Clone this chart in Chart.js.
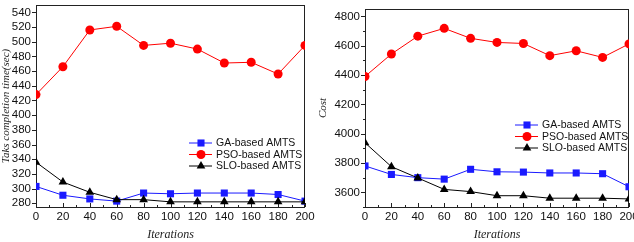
<!DOCTYPE html>
<html lang="en">
  <head>
    <meta charset="UTF-8" />
    <title>AMTS comparison</title>
    <script src="https://cdn.jsdelivr.net/npm/chart.js"></script>
    <style>
      body { margin: 0; background: #fff; }
      .box { position: absolute; top: 0; width: 317px; height: 242px; }
    </style>
  </head>
  <body>
    <div class="box" style="left:0"><canvas id="timeChart" width="317" height="242"></canvas></div>
    <div class="box" style="left:317px"><canvas id="costChart" width="317" height="242"></canvas></div>

    <script>
      const iterations = [0, 20, 40, 60, 80, 100, 120, 140, 160, 180, 200];
      const seriesNames = ["GA-based AMTS", "PSO-based AMTS", "SLO-based AMTS"];

      // left panel: task completion time (sec)
      const timeGA = [303, 291, 286, 283, 294, 293, 294, 294, 294, 292, 283];
      const timePSO = [428, 466, 516, 521, 495, 498, 490, 471, 472, 456, 495];
      const timeSLO = [336, 309, 295, 285, 285, 282, 282, 282, 282, 282, 282];
      const timeTicks = [280, 300, 320, 340, 360, 380, 400, 420, 440, 460, 480, 500, 520, 540];

      // right panel: cost
      const costGA = [3780, 3722, 3700, 3690, 3757, 3740, 3738, 3732, 3732, 3727, 3638];
      const costPSO = [4390, 4543, 4665, 4718, 4650, 4622, 4615, 4532, 4565, 4520, 4612];
      const costSLO = [3938, 3775, 3698, 3620, 3605, 3577, 3577, 3560, 3560, 3560, 3555];
      const costTicks = [3600, 3800, 4000, 4200, 4400, 4600, 4800];

      const colors = ["#1a1aff", "#ff0000", "#000000"];
      const shapes = ["rect", "circle", "triangle"];
      const radii = [5, 4.5, 5];

      const tickFont = { family: "Liberation Sans", size: 11.5 };
      const titleFont = { family: "Liberation Serif", size: 12, style: "italic" };
      const yTitleFont = { family: "Liberation Serif", size: 11, style: "italic" };

      function drawMarker(ctx, shape, x, y, r) {
        ctx.beginPath();
        if (shape === "rect") {
          const s = r * Math.SQRT1_2;
          ctx.rect(x - s, y - s, 2 * s, 2 * s);
        } else if (shape === "circle") {
          ctx.arc(x, y, r, 0, Math.PI * 2);
        } else {
          ctx.moveTo(x, y - r);
          ctx.lineTo(x + r * 0.866, y + r * 0.5);
          ctx.lineTo(x - r * 0.866, y + r * 0.5);
          ctx.closePath();
        }
        ctx.fill();
      }

      // frame with short tick marks (Origin style)
      const framePlugin = {
        id: "frame",
        beforeDatasetsDraw(chart) {
          const { ctx, chartArea: a, scales } = chart;
          ctx.save();
          ctx.strokeStyle = "#222";
          ctx.lineWidth = 1;
          ctx.strokeRect(a.left + 0.5, a.top + 0.5, a.right - a.left - 1, a.bottom - a.top);
          const minors = (vals, lo, hi) => {
            const out = [];
            const step = vals[1] - vals[0];
            for (let v = vals[0] - step / 2; v <= hi; v += step) if (v >= lo) out.push(v);
            return out;
          };
          ctx.beginPath();
          const xs = scales.x, ys = scales.y;
          xs.ticks.forEach((t) => {
            const p = Math.round(xs.getPixelForValue(t.value)) + 0.5;
            ctx.moveTo(p, a.bottom); ctx.lineTo(p, a.bottom - 4);
          });
          minors(xs.ticks.map((t) => t.value), xs.min, xs.max).forEach((v) => {
            const p = Math.round(xs.getPixelForValue(v)) + 0.5;
            ctx.moveTo(p, a.bottom); ctx.lineTo(p, a.bottom - 2);
          });
          ys.ticks.forEach((t) => {
            const p = Math.round(ys.getPixelForValue(t.value)) + 0.5;
            ctx.moveTo(a.left, p); ctx.lineTo(a.left - 4, p);
          });
          if (chart.options.plugins.frame.yMinor) {
            minors(ys.ticks.map((t) => t.value), ys.min, ys.max).forEach((v) => {
              const p = Math.round(ys.getPixelForValue(v)) + 0.5;
              ctx.moveTo(a.left, p); ctx.lineTo(a.left - 2, p);
            });
          }
          ctx.stroke();
          ctx.restore();
        },
      };

      // legend drawn inside plot: line + marker + text
      const legendPlugin = {
        id: "boxLegend",
        afterDatasetsDraw(chart) {
          const o = chart.options.plugins.boxLegend;
          const { ctx, chartArea: a } = chart;
          ctx.save();
          ctx.font = "10.5px 'Liberation Sans'";
          ctx.textBaseline = "middle";
          seriesNames.forEach((name, i) => {
            const x = a.right - o.right;
            const y = a.bottom - o.bottom + i * 11.5;
            ctx.strokeStyle = colors[i];
            ctx.fillStyle = colors[i];
            ctx.lineWidth = 1;
            ctx.beginPath();
            ctx.moveTo(x, y); ctx.lineTo(x + 23, y);
            ctx.stroke();
            drawMarker(ctx, shapes[i], x + 12, y, radii[i]);
            ctx.fillStyle = "#111";
            ctx.fillText(name, x + 27, y + 0.5);
          });
          ctx.restore();
        },
      };

      function makeChart(id, values, yTicks, yMin, yMax, yTitle, yWidth, pad, legendPos, yMinor) {
        const order = [2, 1, 0];
        return new Chart(document.getElementById(id), {
          type: "line",
          data: {
            datasets: values.map((vals, i) => ({
              label: seriesNames[i],
              data: iterations.map((x, j) => ({ x: x, y: vals[j] })),
              borderColor: colors[i],
              backgroundColor: colors[i],
              pointBackgroundColor: colors[i],
              pointBorderColor: colors[i],
              pointStyle: shapes[i],
              pointRadius: radii[i],
              pointBorderWidth: 0,
              borderWidth: 1,
              tension: 0,
              order: order[i],
            })),
          },
          options: {
            responsive: false,
            animation: false,
            events: [],
            layout: { padding: pad },
            plugins: {
              legend: { display: false },
              tooltip: { enabled: false },
              frame: { yMinor: yMinor },
              boxLegend: legendPos,
            },
            scales: {
              x: {
                type: "linear",
                min: 0,
                max: 200,
                afterBuildTicks: (s) => { s.ticks = iterations.map((v) => ({ value: v })); },
                afterFit: (s) => { s.height = 35; s.paddingLeft = 0; s.paddingRight = 0; },
                grid: { display: false, drawTicks: false, tickLength: 0 },
                border: { display: false },
                ticks: { font: tickFont, color: "#111", padding: 3, maxRotation: 0, autoSkip: false,
                  callback: (v) => String(v) },
                title: { display: true, text: "Iterations", font: titleFont, color: "#222", padding: { top: 0, bottom: 0 } },
              },
              y: {
                min: yMin,
                max: yMax,
                afterBuildTicks: (s) => { s.ticks = yTicks.map((v) => ({ value: v })); },
                afterFit: (s) => { s.width = yWidth; s.paddingTop = 0; s.paddingBottom = 0; },
                grid: { display: false, drawTicks: false, tickLength: 0 },
                border: { display: false },
                ticks: { font: tickFont, color: "#111", padding: 5, autoSkip: false,
                  callback: (v) => String(v) },
                title: { display: true, text: yTitle, font: yTitleFont, color: "#222", padding: { top: 0, bottom: 0 } },
              },
            },
          },
          plugins: [framePlugin, legendPlugin],
        });
      }

      makeChart("timeChart", [timeGA, timePSO, timeSLO], timeTicks, 275, 550,
        "Taks completion time(sec)", 36, { left: 0, right: 12, top: 5, bottom: 0 },
        { right: 116, bottom: 64 }, false);

      makeChart("costChart", [costGA, costPSO, costSLO], costTicks, 3500, 4850,
        "Cost", 48, { left: 0, right: 5, top: 9, bottom: 0 },
        { right: 114, bottom: 82 }, true);
    </script>
  </body>
</html>
